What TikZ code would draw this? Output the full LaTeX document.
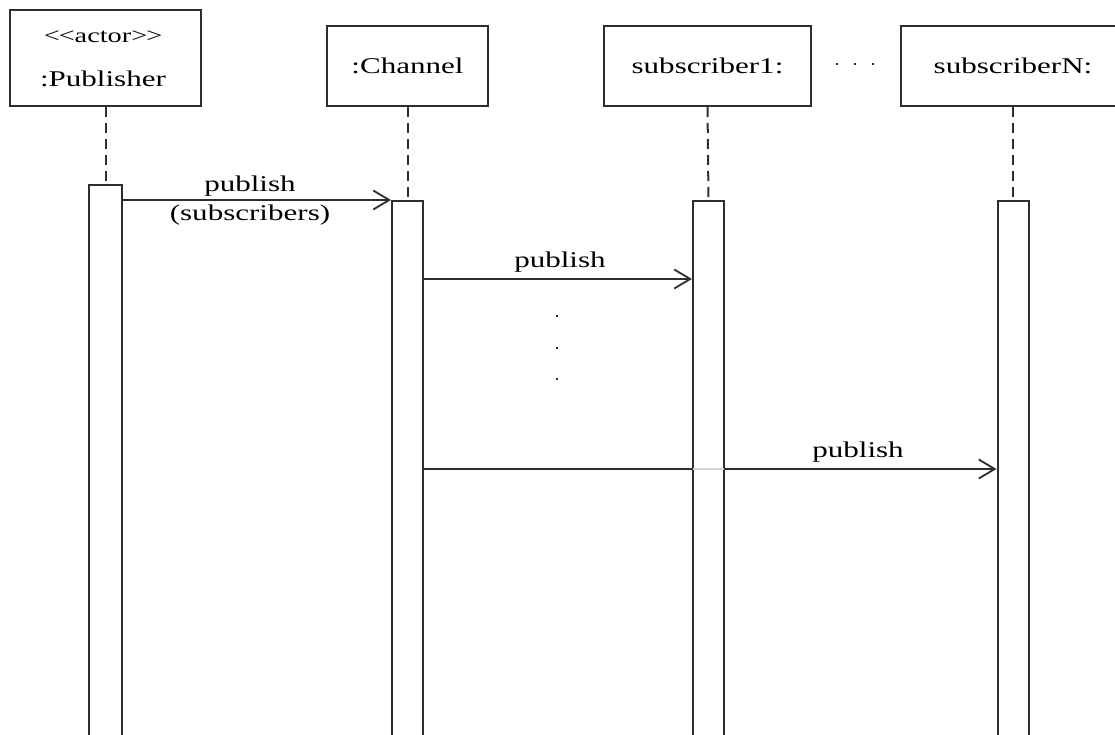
\documentclass[tikz,border=0pt]{standalone}
\usepackage{fontspec}
\setmainfont{Liberation Serif}[FakeStretch=1.38]
\usetikzlibrary{arrows.meta}
\definecolor{linecol}{HTML}{2E2E2E}
\begin{document}
\begin{tikzpicture}[x=1pt,y=-1pt,
  obj/.style={draw=linecol, line width=2pt, fill=white, inner sep=0pt,
    anchor=north west, font=\fontsize{22.5}{26}\selectfont, text=black},
  actbar/.style={draw=linecol, line width=2pt, fill=white, inner sep=0pt,
    anchor=north west, minimum width=31pt, minimum height=560pt},
  life/.style={draw=linecol, line width=2pt, dash pattern=on 10pt off 6pt},
  msg/.style={draw=linecol, line width=2.5pt,
    -{Straight Barb[length=16pt,width=19pt,line width=1.8pt]}},
  lbl/.style={inner sep=0pt, font=\fontsize{22.5}{26}\selectfont, text=black},
  dotmark/.style={fill=linecol, inner sep=0pt, minimum size=2.4pt, shape=rectangle}]
\useasboundingbox (0,0) rectangle (1115,735);

% object boxes
\node[obj, minimum width=191pt, minimum height=96pt] (pub) at (9,9) {};
\node[lbl, font=\fontsize{20.5}{22}\selectfont] (pubst) at (103,37) {<\kern-1pt<actor>\kern-1pt>};
\node[lbl] (pubname) at (103,79) {:Publisher};
\node[obj, minimum width=161pt, minimum height=80pt] (chan) at (326,25) {:Channel};
\node[obj, minimum width=207pt, minimum height=80pt] (subA) at (603,25) {subscriber1:};
\node[obj, minimum width=224pt, minimum height=80pt] (subN) at (900,25) {subscriberN:};

% ellipsis between the subscriber boxes
\node[dotmark] (hd1) at (837,64) {};
\node[dotmark] (hd2) at (855,64) {};
\node[dotmark] (hd3) at (873,64) {};

% activation bars
\node[actbar, minimum width=33pt] (pact) at (88,184) {};
\node[actbar] (cact) at (391,200) {};
\node[actbar] (aact) at (692,200) {};
\node[actbar] (nact) at (996.5,200) {};

% lifelines
\draw[life] (pub.south) -- (pact.north);
\draw[life] (chan.south) -- (cact.north);
\draw[life] (subA.south) -- (aact.north);
\draw[life] (subN.south) -- (nact.north);

% messages
\coordinate (m2) at (0,279);
\coordinate (m3) at (0,469);
\draw[msg] (pact.east |- cact.north west) -- (cact.north west);
\node[lbl] (l1a) at (250,186) {publish};
\node[lbl] (l1b) at (250,215) {(subscribers)};

\draw[msg] (cact.east |- m2) -- (aact.west |- m2);
\node[lbl] (l2) at (560,262) {publish};

\draw[msg] (cact.east |- m3) -- (nact.west |- m3);
\draw[gray!35, line width=1.6pt] ([xshift=1pt]aact.west |- m3) -- ([xshift=-1pt]aact.east |- m3);
\node[lbl] (l3) at (858,452) {publish};

% vertical ellipsis between the messages
\node[dotmark] (vd1) at (557,316) {};
\node[dotmark] (vd2) at (557,348) {};
\node[dotmark] (vd3) at (557,379) {};
\end{tikzpicture}
\end{document}
